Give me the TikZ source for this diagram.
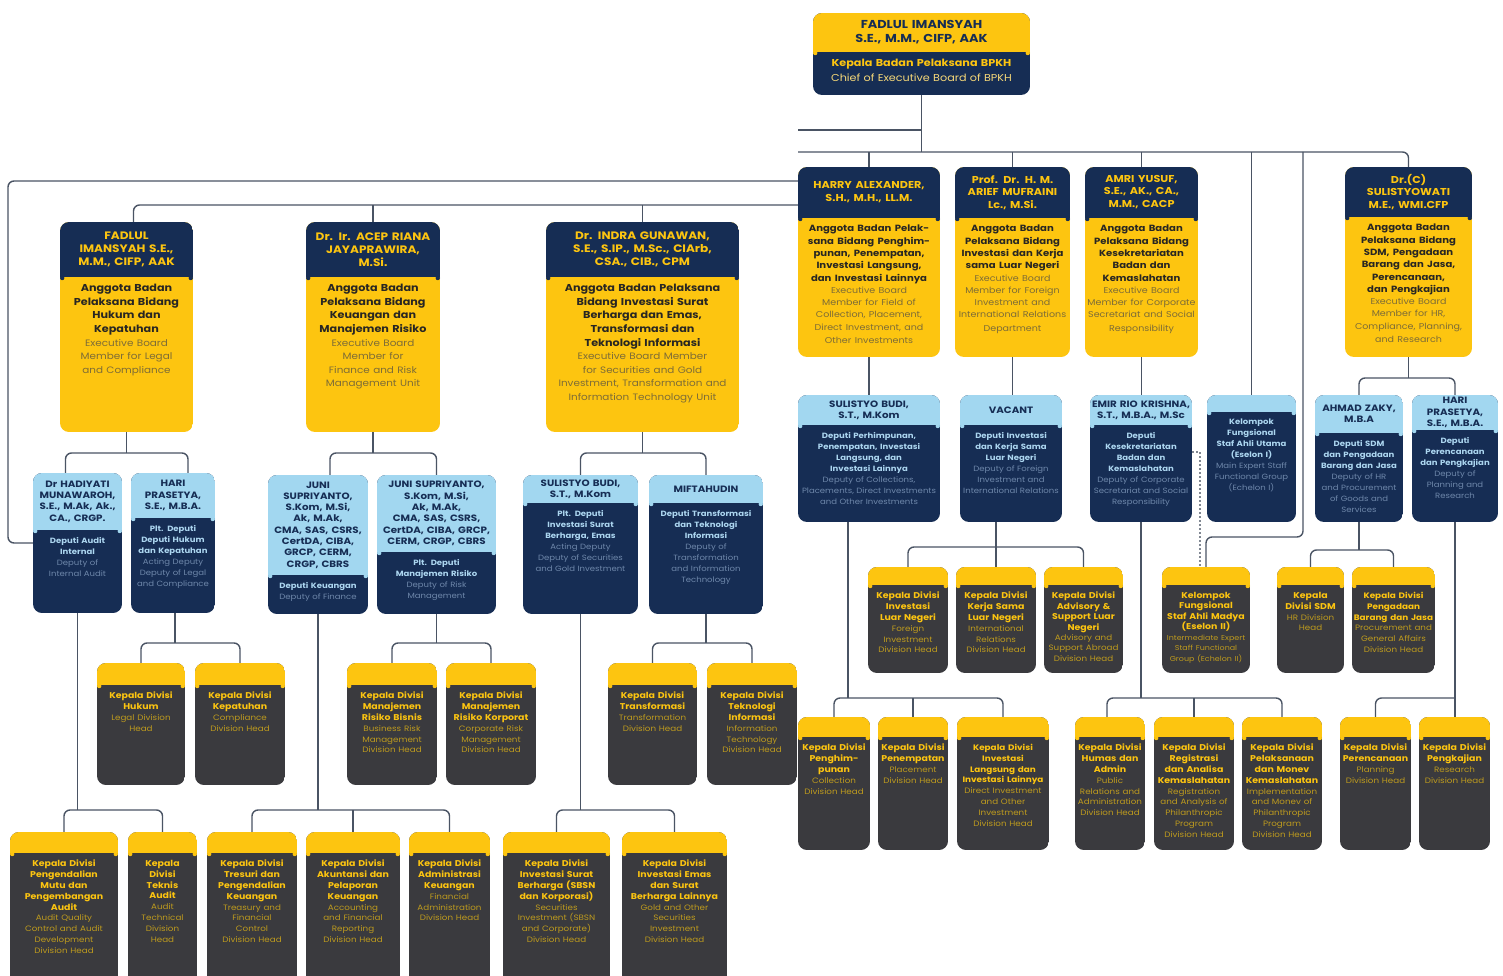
\documentclass[tikz,border=0pt]{standalone}
\usepackage{fontspec}
\setmainfont{Poppins}[FakeStretch=1.12]
\usetikzlibrary{calc,fit}
\definecolor{navy}{RGB}{22,45,84}
\definecolor{gold}{RGB}{253,197,16}
\definecolor{sky}{RGB}{162,215,240}
\definecolor{slate}{RGB}{58,58,62}
\definecolor{wire}{RGB}{74,84,100}
\definecolor{exbold}{RGB}{40,38,35}
\definecolor{exreg}{RGB}{125,108,55}
\definecolor{chreg}{RGB}{245,215,120}
\definecolor{depbold}{RGB}{172,214,240}
\definecolor{depreg}{RGB}{110,135,170}
\definecolor{divreg}{RGB}{190,155,30}
\newcommand\litefont{}
\newcommand\lite[1]{{\litefont\mdseries\color{regc}#1}}
\newcommand\rx{\fontsize{9}{12.3}\selectfont\def\litefont{\fontsize{8.5}{12.3}\selectfont}}
\newcommand\rxh{\fontsize{10}{12}\selectfont}
\newcommand\sm{\fontsize{7.9}{10.8}\selectfont}
\tikzset{
 exetop/.style={fill=navy}, exebody/.style={fill=gold},
 exett/.style={text=gold,font=\bfseries\fontsize{10.8}{13}\selectfont},
 exebt/.style={text=exbold,font=\bfseries\fontsize{10}{13.6}\selectfont\colorlet{regc}{exreg}\def\litefont{\fontsize{9.3}{13.6}\selectfont}},
 chetop/.style={fill=gold}, chebody/.style={fill=navy},
 chett/.style={text=navy,font=\bfseries\fontsize{11.5}{14}\selectfont},
 chebt/.style={text=gold,font=\bfseries\fontsize{10}{15}\selectfont\colorlet{regc}{chreg}},
 deptop/.style={fill=sky}, depbody/.style={fill=navy},
 deptt/.style={text=navy,font=\bfseries\fontsize{9.2}{11.3}\selectfont},
 depbt/.style={text=depbold,font=\bfseries\fontsize{7.6}{11}\selectfont\colorlet{regc}{depreg}},
 divtop/.style={fill=gold}, divbody/.style={fill=slate},
 divtt/.style={text=navy},
 divbt/.style={text=gold,font=\bfseries\fontsize{8.4}{10.8}\selectfont\colorlet{regc}{divreg}\def\litefont{\fontsize{7.8}{10.8}\selectfont}},
 conn/.style={draw=wire,line width=1.4pt,rounded corners=6pt},
 dotline/.style={draw=wire!70,line width=1.1pt,dash pattern=on 2pt off 2pt},
}
% #1 name, #2 x1, #3 y1, #4 x2, #5 y2, #6 split, #7 type, #8 top text, #9 body text
\newcommand\ob[9]{%
 \begin{scope}
  \clip[rounded corners=9pt] (#2,#3) rectangle (#4,#5);
  \fill[#7body] (#2,#3) rectangle (#4,#5);
  \fill[#7top] (#2,#3) rectangle (#4,#6);
 \end{scope}
 \fill[#7top] (#2+2.2,#6+1) circle (2.2pt);
 \fill[#7top] (#4-2.2,#6+1) circle (2.2pt);
 \node[fit={(#2,#3)(#4,#5)},inner sep=0pt] (#1) {};
 \pgfmathsetmacro\obw{#4-#2+2}%
 \pgfmathsetmacro\obt{#4-#2+6}%
 \node[#7tt,text width=\obt pt,align=center,inner sep=0pt] at ({(#2+#4)/2},{(#3+#6)/2}) {#8};
 \node[#7bt,text width=\obw pt,align=center,inner sep=0pt,anchor=north] at ({(#2+#4)/2},{#6+7}) {#9};
}
\begin{document}
\begin{tikzpicture}[x=1pt,y=-1pt]
\useasboundingbox (0,0) rectangle (1503,976);
\fill[white] (0,0) rectangle (1503,976);
\clip (0,0) rectangle (1503,976);

% ---------- boxes ----------
\ob{chief}{813}{13}{1030}{95}{52}{che}{FADLUL IMANSYAH\\S.E., M.M., CIFP, AAK}{Kepala Badan Pelaksana BPKH\\\lite{Chief of Executive Board of BPKH}}

\ob{fadlulx}{60}{222}{193}{432}{277}{exe}{FADLUL\\IMANSYAH S.E.,\\M.M., CIFP, AAK}{Anggota Badan\\Pelaksana Bidang\\Hukum dan\\Kepatuhan\\\lite{Executive Board\\Member for Legal\\and Compliance}}
\ob{acep}{306}{222}{440}{432}{277}{exe}{Dr. Ir. ACEP RIANA\\JAYAPRAWIRA,\\M.Si.}{Anggota Badan\\Pelaksana Bidang\\Keuangan dan\\Manajemen Risiko\\\lite{Executive Board\\Member for\\Finance and Risk\\Management Unit}}
\ob{indra}{546}{222}{739}{432}{277}{exe}{Dr. INDRA GUNAWAN,\\S.E., S.IP., M.Sc., CIArb,\\CSA., CIB., CPM}{Anggota Badan Pelaksana\\Bidang Investasi Surat\\Berharga dan Emas,\\Transformasi dan\\Teknologi Informasi\\\lite{Executive Board Member\\for Securities and Gold\\Investment, Transformation and\\Information Technology Unit}}

\ob{harry}{798}{167}{940}{357}{218}{exe}{\rxh HARRY ALEXANDER,\\S.H., M.H., LL.M.}{\rx Anggota Badan Pelak-\\sana Bidang Penghim-\\punan, Penempatan,\\Investasi Langsung,\\dan Investasi Lainnya\\\lite{Executive Board\\Member for Field of\\Collection, Placement,\\Direct Investment, and\\Other Investments}}
\ob{arief}{955}{167}{1070}{357}{218}{exe}{\rxh Prof. Dr. H. M.\\ARIEF MUFRAINI\\Lc., M.Si.}{\rx Anggota Badan\\Pelaksana Bidang\\Investasi dan Kerja\\sama Luar Negeri\\\lite{Executive Board\\Member for Foreign\\Investment and\\International Relations\\Department}}
\ob{amri}{1085}{167}{1198}{357}{218}{exe}{\rxh AMRI YUSUF,\\S.E., AK., CA.,\\M.M., CACP}{\rx Anggota Badan\\Pelaksana Bidang\\Kesekretariatan\\Badan dan\\Kemaslahatan\\\lite{Executive Board\\Member for Corporate\\Secretariat and Social\\Responsibility}}
\ob{sulis}{1345}{167}{1472}{357}{217}{exe}{\rxh Dr.(C)\\SULISTYOWATI\\M.E., WMI.CFP}{\rx Anggota Badan\\Pelaksana Bidang\\SDM, Pengadaan\\Barang dan Jasa,\\Perencanaan,\\dan Pengkajian\\\lite{Executive Board\\Member for HR,\\Compliance, Planning,\\and Research}}

\ob{hadiyati}{33}{473}{122}{613}{530}{dep}{Dr HADIYATI\\MUNAWAROH,\\S.E., M.Ak, Ak.,\\CA., CRGP.}{Deputi Audit\\Internal\\\lite{Deputy of\\Internal Audit}}
\ob{hari1}{131}{473}{215}{613}{518}{dep}{HARI\\PRASETYA,\\S.E., M.B.A.}{Plt. Deputi\\Deputi Hukum\\dan Kepatuhan\\\lite{Acting Deputy\\Deputy of Legal\\and Compliance}}
\ob{juni1}{268}{475}{368}{614}{575}{dep}{JUNI\\SUPRIYANTO,\\S.Kom, M.Si,\\Ak, M.Ak,\\CMA, SAS, CSRS,\\CertDA, CIBA,\\GRCP, CERM,\\CRGP, CBRS}{Deputi Keuangan\\\lite{Deputy of Finance}}
\ob{juni2}{377}{475}{496}{614}{552}{dep}{JUNI SUPRIYANTO,\\S.Kom, M.Si,\\Ak, M.Ak,\\CMA, SAS, CSRS,\\CertDA, CIBA, GRCP,\\CERM, CRGP, CBRS}{Plt. Deputi\\Manajemen Risiko\\\lite{Deputy of Risk\\Management}}
\ob{sbudi1}{523}{475}{638}{614}{503}{dep}{SULISTYO BUDI,\\S.T., M.Kom}{Plt. Deputi\\Investasi Surat\\Berharga, Emas\\\lite{Acting Deputy\\Deputy of Securities\\and Gold Investment}}
\ob{mifta}{649}{475}{763}{614}{503}{dep}{MIFTAHUDIN}{Deputi Transformasi\\dan Teknologi\\Informasi\\\lite{Deputy of\\Transformation\\and Information\\Technology}}

\ob{sbudi2}{798}{395}{940}{522}{425}{dep}{SULISTYO BUDI,\\S.T., M.Kom}{Deputi Perhimpunan,\\Penempatan, Investasi\\Langsung, dan\\Investasi Lainnya\\\lite{Deputy of Collections,\\Placements, Direct Investments\\and Other Investments}}
\ob{vacant}{960}{395}{1062}{522}{425}{dep}{VACANT}{Deputi Investasi\\dan Kerja Sama\\Luar Negeri\\\lite{Deputy of Foreign\\Investment and\\International Relations}}
\ob{emir}{1090}{395}{1192}{522}{425}{dep}{EMIR RIO KRISHNA,\\S.T., M.B.A., M.Sc}{Deputi\\Kesekretariatan\\Badan dan\\Kemaslahatan\\\lite{Deputy of Corporate\\Secretariat and Social\\Responsibility}}
\ob{eselon1}{1207}{395}{1296}{522}{412}{dep}{}{Kelompok\\Fungsional\\Staf Ahli Utama\\(Eselon I)\\\lite{Main Expert Staff\\Functional Group\\(Echelon I)}}
\ob{zaky}{1315}{395}{1403}{522}{433}{dep}{AHMAD ZAKY,\\M.B.A}{Deputi SDM\\dan Pengadaan\\Barang dan Jasa\\\lite{Deputy of HR\\and Procurement\\of Goods and\\Services}}
\ob{hari2}{1412}{395}{1498}{522}{430}{dep}{HARI\\PRASETYA,\\S.E., M.B.A.}{Deputi\\Perencanaan\\dan Pengkajian\\\lite{Deputy of\\Planning and\\Research}}

\ob{dHukum}{97}{663}{185}{785}{685}{div}{}{Kepala Divisi\\Hukum\\\lite{Legal Division\\Head}}
\ob{dKepatuhan}{195}{663}{285}{785}{685}{div}{}{Kepala Divisi\\Kepatuhan\\\lite{Compliance\\Division Head}}
\ob{dRBisnis}{347}{663}{437}{785}{685}{div}{}{Kepala Divisi\\Manajemen\\Risiko Bisnis\\\lite{Business Risk\\Management\\Division Head}}
\ob{dRKorp}{446}{663}{536}{785}{685}{div}{}{Kepala Divisi\\Manajemen\\Risiko Korporat\\\lite{Corporate Risk\\Management\\Division Head}}
\ob{dTransf}{608}{663}{697}{785}{685}{div}{}{Kepala Divisi\\Transformasi\\\lite{Transformation\\Division Head}}
\ob{dTI}{707}{663}{797}{785}{685}{div}{}{Kepala Divisi\\Teknologi\\Informasi\\\lite{Information\\Technology\\Division Head}}

\ob{dMutu}{10}{832}{118}{990}{853}{div}{}{Kepala Divisi\\Pengendalian\\Mutu dan\\Pengembangan\\Audit\\\lite{Audit Quality\\Control and Audit\\Development\\Division Head}}
\ob{dTeknis}{128}{832}{197}{990}{853}{div}{}{Kepala\\Divisi\\Teknis\\Audit\\\lite{Audit\\Technical\\Division\\Head}}
\ob{dTreasury}{207}{832}{297}{990}{853}{div}{}{Kepala Divisi\\Tresuri dan\\Pengendalian\\Keuangan\\\lite{Treasury and\\Financial\\Control\\Division Head}}
\ob{dAkun}{306}{832}{400}{990}{853}{div}{}{Kepala Divisi\\Akuntansi dan\\Pelaporan\\Keuangan\\\lite{Accounting\\and Financial\\Reporting\\Division Head}}
\ob{dAdm}{409}{832}{490}{990}{853}{div}{}{Kepala Divisi\\Administrasi\\Keuangan\\\lite{Financial\\Administration\\Division Head}}
\ob{dSBN}{503}{832}{610}{990}{853}{div}{}{Kepala Divisi\\Investasi Surat\\Berharga (SBSN\\dan Korporasi)\\\lite{Securities\\Investment (SBSN\\and Corporate)\\Division Head}}
\ob{dEmas}{622}{832}{727}{990}{853}{div}{}{Kepala Divisi\\Investasi Emas\\dan Surat\\Berharga Lainnya\\\lite{Gold and Other\\Securities\\Investment\\Division Head}}

\ob{dILN}{868}{567}{948}{673}{585}{div}{}{Kepala Divisi\\Investasi\\Luar Negeri\\\lite{Foreign\\Investment\\Division Head}}
\ob{dKSLN}{956}{567}{1036}{673}{585}{div}{}{Kepala Divisi\\Kerja Sama\\Luar Negeri\\\lite{International\\Relations\\Division Head}}
\ob{dAdv}{1044}{567}{1123}{673}{585}{div}{}{\fontsize{8.4}{10.4}\selectfont Kepala Divisi\\Advisory \&\\Support Luar\\Negeri\\\lite{\fontsize{7.8}{10.4}\selectfont Advisory and\\Support Abroad\\Division Head}}
\ob{eselon2}{1162}{567}{1250}{673}{585}{div}{}{\fontsize{8.4}{10.4}\selectfont Kelompok\\Fungsional\\Staf Ahli Madya\\(Eselon II)\\\lite{\fontsize{7.1}{10.4}\selectfont Intermediate Expert\\Staff Functional\\Group (Echelon II)}}
\ob{dSDM}{1277}{567}{1344}{673}{585}{div}{}{Kepala\\Divisi SDM\\\lite{HR Division\\Head}}
\ob{dPBJ}{1352}{567}{1435}{673}{585}{div}{}{\sm Kepala Divisi\\Pengadaan\\Barang dan Jasa\\\lite{Procurement and\\General Affairs\\Division Head}}

\ob{dHimpun}{798}{717}{870}{850}{737}{div}{}{Kepala Divisi\\Penghim-\\punan\\\lite{Collection\\Division Head}}
\ob{dTempat}{878}{717}{948}{850}{737}{div}{}{Kepala Divisi\\Penempatan\\\lite{Placement\\Division Head}}
\ob{dILangsung}{957}{717}{1049}{850}{737}{div}{}{\sm Kepala Divisi\\Investasi\\Langsung dan\\Investasi Lainnya\\\lite{Direct Investment\\and Other\\Investment\\Division Head}}
\ob{dHumas}{1075}{717}{1145}{850}{737}{div}{}{Kepala Divisi\\Humas dan\\Admin\\\lite{Public\\Relations and\\Administration\\Division Head}}
\ob{dRegis}{1154}{717}{1234}{850}{737}{div}{}{Kepala Divisi\\Registrasi\\dan Analisa\\Kemaslahatan\\\lite{Registration\\and Analysis of\\Philanthropic\\Program\\Division Head}}
\ob{dMonev}{1242}{717}{1322}{850}{737}{div}{}{Kepala Divisi\\Pelaksanaan\\dan Monev\\Kemaslahatan\\\lite{Implementation\\and Monev of\\Philanthropic\\Program\\Division Head}}
\ob{dRencana}{1340}{717}{1411}{850}{737}{div}{}{Kepala Divisi\\Perencanaan\\\lite{Planning\\Division Head}}
\ob{dKaji}{1419}{717}{1490}{850}{737}{div}{}{Kepala Divisi\\Pengkajian\\\lite{Research\\Division Head}}

% ---------- bus levels and free ends ----------
\coordinate (h130) at (0,130);
\coordinate (h152) at (0,152);
\coordinate (h181) at (0,181);
\coordinate (h205) at (0,205);
\coordinate (h378) at (0,378);
\coordinate (h453) at (0,453);
\coordinate (h537) at (0,537);
\coordinate (h547) at (0,547);
\coordinate (h550) at (0,550);
\coordinate (h643) at (0,643);
\coordinate (h698) at (0,698);
\coordinate (h810) at (0,810);
\coordinate (la) at (798,130);
\coordinate (lb) at (798,152);
\coordinate (ox) at (8,181);
\coordinate (esx) at (1303,152);
\coordinate (dotx) at (1200,452);
\coordinate (fx) at ($(fadlulx.north)+(7,0)$);
\coordinate (c1) at ($(hadiyati.north)+(-12,0)$);
\coordinate (c2) at ($(hari1.north)+(15,0)$);
\coordinate (c3) at ($(juni1.north)+(12,0)$);
\coordinate (hd) at ($(hari1.south)+(2,0)$);
\coordinate (vd) at ($(vacant.south)+(-15,0)$);
\coordinate (sd) at ($(sbudi2.south)+(-21,0)$);
\coordinate (hm) at ($(dHumas.north)+(-3,0)$);

% ---------- connectors ----------
\draw[conn] (chief.south) -- (chief.south |- h152);
\draw[conn] (chief.south |- h130) -- (la);
\draw[conn] (lb) -| (sulis.north);
\foreach \n in {harry,arief,amri,eselon1} \draw[conn] (\n.north) -- (\n.north |- h152);
\draw[conn] (esx) |- (eselon2.north |- h537) -- (eselon2.north);
\draw[dotline] (emir.east |- dotx) -- (dotx) -- (dotx |- eselon2.north);

\draw[conn] (harry.west |- h181) -- (ox) |- (hadiyati.west);
\draw[conn] (harry.west |- h205) -| (fx);
\draw[conn] (acep.north) -- (acep.north |- h205);
\draw[conn] (indra.north) -- (indra.north |- h205);

\draw[conn] (fadlulx.south) -- (fadlulx.south |- h453);
\draw[conn] (c1) |- (fadlulx.south |- h453) -| (c2);
\draw[conn] (acep.south) -- (acep.south |- h453);
\draw[conn] (c3) |- (acep.south |- h453) -| (juni2.north);
\draw[conn] (indra.south) -- (indra.south |- h453);
\draw[conn] (sbudi1.north) |- (indra.south |- h453) -| (mifta.north);

\draw[conn] (hd) -- (hd |- h643);
\draw[conn] (dHukum.north) |- (hd |- h643) -| (dKepatuhan.north);
\draw[conn] (juni2.south) -- (juni2.south |- h643);
\draw[conn] (dRBisnis.north) |- (juni2.south |- h643) -| (dRKorp.north);
\draw[conn] (mifta.south) -- (mifta.south |- h643);
\draw[conn] (dTransf.north) |- (mifta.south |- h643) -| (dTI.north);

\draw[conn] (hadiyati.south) -- (hadiyati.south |- h810);
\draw[conn] (dMutu.north) |- (hadiyati.south |- h810) -| (dTeknis.north);
\draw[conn] (juni1.south) -- (juni1.south |- h810);
\draw[conn] (dTreasury.north) |- (juni1.south |- h810) -| (dAdm.north);
\draw[conn] (dAkun.north) -- (dAkun.north |- h810);
\draw[conn] (sbudi1.south) -- (sbudi1.south |- h810);
\draw[conn] (dSBN.north) |- (sbudi1.south |- h810) -| (dEmas.north);

\draw[conn] (harry.south) -- (harry.south |- sbudi2.north);
\draw[conn] (arief.south) -- (arief.south |- vacant.north);
\draw[conn] (amri.south) -- (amri.south |- emir.north);
\draw[conn] (sulis.south) -- (sulis.south |- h378);
\draw[conn] (zaky.north) |- (sulis.south |- h378) -| (hari2.north);

\draw[conn] (vd) -- (vd |- h547);
\draw[conn] (dILN.north) |- (vd |- h547) -| (dAdv.north);
\draw[conn] (dKSLN.north) -- (dKSLN.north |- h547);
\draw[conn] (zaky.south) -- (zaky.south |- h550);
\draw[conn] (dSDM.north) |- (zaky.south |- h550) -| (dPBJ.north);

\draw[conn] (sd) -- (sd |- h698);
\draw[conn] (dHimpun.north) |- (sd |- h698) -| (dILangsung.north);
\draw[conn] (dTempat.north) -- (dTempat.north |- h698);
\draw[conn] (emir.south) -- (emir.south |- h698);
\draw[conn] (hm) |- (emir.south |- h698) -| (dMonev.north);
\draw[conn] (dRegis.north) -- (dRegis.north |- h698);
\draw[conn] (hari2.south) -- (hari2.south |- dKaji.north);
\draw[conn] (dRencana.north) |- (hari2.south |- h698);
\end{tikzpicture}
\end{document}
